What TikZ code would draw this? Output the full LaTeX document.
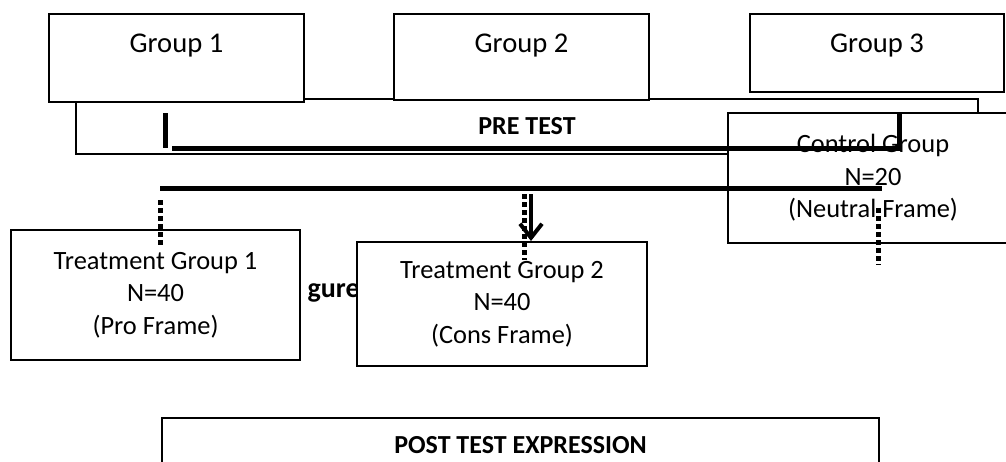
\documentclass[tikz,border=0pt]{standalone}
\usepackage{fontspec}
\setmainfont{Carlito}
\usetikzlibrary{arrows.meta}

\begin{document}
\begin{tikzpicture}[x=0.5pt,y=-0.5pt,
    box/.style={draw, line width=1pt, fill=white, inner sep=0pt, align=center},
    grp/.style={box, font=\fontsize{14.3}{17}\selectfont, text height=19pt},
    tgrp/.style={box, font=\fontsize{13.2}{16.25}\selectfont},
    bold/.style={font=\bfseries\fontsize{13}{16}\selectfont},
    thickline/.style={line width=2.5pt},
    dots/.style={line width=2.5pt, dash pattern=on 2.5pt off 1.5pt},
]
    \useasboundingbox (0,0) rectangle (1006,461);
    \node[box, bold, line width=0.8pt, minimum width=451pt, minimum height=27.5pt] (pre) at (527,126.5) {PRE TEST};
    \node[grp, minimum width=127.5pt, text depth=25pt] (g1) at (176.5,58) {Group 1};
    \node[grp, minimum width=127.5pt, text depth=24pt] (g2) at (521.5,57) {Group 2};
    \node[grp, minimum width=127pt, text depth=20pt] (g3) at (877,53) {Group 3};
    \node[tgrp, minimum width=145pt, minimum height=65pt] (ctrl) at (873,178) {Control Group\\N=20\\(Neutral Frame)};
    \node[tgrp, minimum width=144.5pt, minimum height=65pt] (tg1) at (155.5,295) {Treatment Group 1\\N=40\\(Pro Frame)};
    \node[bold, font=\bfseries\fontsize{14}{17}\selectfont, inner sep=0pt, anchor=base east] (fig) at (360,297) {gure};
    \node[tgrp, minimum width=145pt, minimum height=62pt] (tg2) at (502,304) {Treatment Group 2\\N=40\\(Cons Frame)};
    \node[box, bold, minimum width=358.5pt, text height=17.5pt, text depth=18.5pt] (post) at (520.5,454) {POST TEST EXPRESSION};

    % lines under the pre test
    \coordinate (v1) at (165,113);
    \coordinate (h1) at (172,148);
    \coordinate (h1e) at (899,148);
    \coordinate (h2) at (160,188);
    \coordinate (h2e) at (882,188);
    \draw[thickline] (v1) -- (v1 |- h1);
    \draw[thickline] (h1) -- (h1e) -- (h1e |- ctrl.north);
    \draw[thickline] (h2) -- (h2e);

    % dotted drops and arrow
    \coordinate (d1) at (160,200);
    \coordinate (d2) at (524,194);
    \coordinate (d3) at (878,208);
    \coordinate (a1) at (531,194);
    \draw[dots] (d1) -- ++(0,48);
    \draw[dots] (d2) -- ++(0,66);
    \draw[dots] (d3) -- ++(0,57);
    \draw[line width=2pt, -{Straight Barb[length=7pt,width=11pt]}] (a1) -- (a1 |- tg2.north);
\end{tikzpicture}
\end{document}
